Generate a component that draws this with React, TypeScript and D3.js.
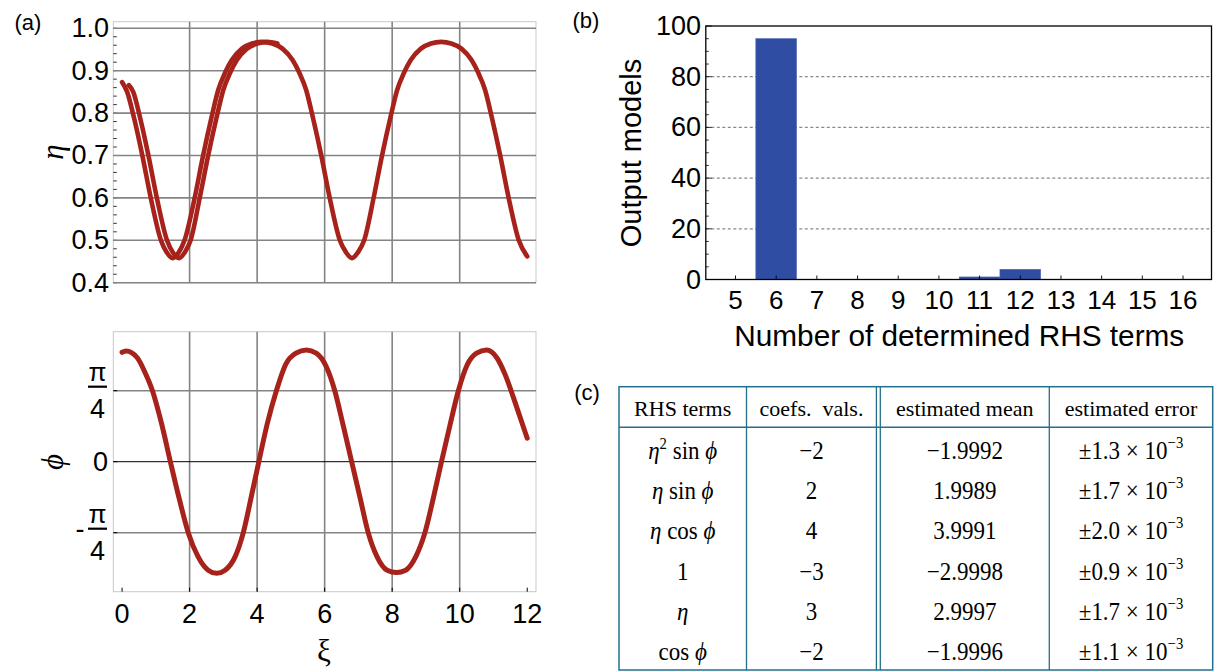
import React, { useEffect, useRef } from "react";
import * as d3 from "d3";

// ---- (a) upper: eta vs xi, two runs
const etaXiA = [0, 0.15, 0.35, 0.6, 0.85, 1.15, 1.32, 1.5, 1.68, 1.85, 2.15, 2.4, 2.65, 2.85, 3.05, 3.25, 3.55, 3.85, 4.15, 4.45, 4.75, 5.05, 5.25, 5.45, 5.65, 5.9, 6.15, 6.45, 6.63, 6.81, 6.99, 7.17, 7.45, 7.7, 7.95, 8.15, 8.35, 8.55, 8.85, 9.15, 9.45, 9.75, 10.05, 10.35, 10.55, 10.75, 10.95, 11.2, 11.45, 11.75, 12.0];
const etaA = [0.873, 0.85, 0.79, 0.7, 0.6, 0.5, 0.472, 0.458, 0.472, 0.5, 0.6, 0.7, 0.79, 0.855, 0.895, 0.925, 0.952, 0.964, 0.968, 0.964, 0.952, 0.925, 0.895, 0.855, 0.79, 0.7, 0.6, 0.5, 0.472, 0.458, 0.472, 0.5, 0.6, 0.7, 0.79, 0.855, 0.895, 0.925, 0.952, 0.964, 0.968, 0.964, 0.952, 0.925, 0.895, 0.855, 0.79, 0.7, 0.6, 0.5, 0.462];
const etaXiB = [0.2, 0.33, 0.53, 0.78, 1.03, 1.33, 1.5, 1.68, 1.86, 2.03, 2.3, 2.55, 2.8, 3.0, 3.2, 3.4, 3.7, 4.0, 4.3, 4.6];
const etaB = [0.866, 0.85, 0.79, 0.7, 0.6, 0.5, 0.472, 0.458, 0.472, 0.5, 0.6, 0.7, 0.79, 0.855, 0.895, 0.925, 0.952, 0.964, 0.968, 0.964];
const etaTicks = [0.4, 0.5, 0.6, 0.7, 0.8, 0.9, 1.0];

// ---- (a) lower: phi vs xi
const phiXi = [0, 0.12, 0.45, 0.7, 0.9, 1.17, 1.43, 1.7, 1.96, 2.25, 2.55, 2.8, 3.05, 3.35, 3.59, 3.82, 4.05, 4.3, 4.57, 4.85, 5.15, 5.46, 5.75, 6.05, 6.3, 6.55, 6.8, 7.05, 7.29, 7.55, 7.85, 8.13, 8.4, 8.7, 8.97, 9.22, 9.46, 9.71, 9.96, 10.22, 10.5, 10.8, 11.1, 11.35, 11.6, 11.8, 12.0];
const phi = [1.21, 1.225, 1.15, 0.97, 0.785, 0.42, 0, -0.42, -0.785, -1.05, -1.2, -1.235, -1.2, -1.05, -0.785, -0.4, 0, 0.42, 0.785, 1.08, 1.2, 1.235, 1.2, 1.05, 0.785, 0.4, 0, -0.4, -0.785, -1.05, -1.2, -1.225, -1.2, -1.05, -0.785, -0.4, 0, 0.4, 0.785, 1.07, 1.2, 1.235, 1.15, 0.96, 0.7, 0.48, 0.26];
const xiTicks = [0, 2, 4, 6, 8, 10, 12];
const xiGrid = [2, 4, 6, 8, 10];

// ---- (b) histogram
const termCounts = [5, 6, 7, 8, 9, 10, 11, 12, 13, 14, 15, 16];
const modelCounts = [0, 95, 0, 0, 0, 0, 1, 4, 0, 0, 0, 0];
const modelTicks = [0, 20, 40, 60, 80, 100];

// ---- (c) table
const tableHeader = ["RHS terms", "coefs.\u00A0 vals.", "estimated mean", "estimated error"];
const rhsTerms = ["η^2 sin ϕ", "η sin ϕ", "η cos ϕ", "1", "η", "cos ϕ"];
const coefVals = [-2, 2, 4, -3, 3, -2];
const estMeans = [-1.9992, 1.9989, 3.9991, -2.9998, 2.9997, -1.9996];
const estErrors = ["1.3", "1.7", "2.0", "0.9", "1.7", "1.1"];
const errExponent = "−3";

const SANS = "'Liberation Sans', Arial, sans-serif";
const SERIF = "'Liberation Serif', 'Times New Roman', serif";
const RED = "#a6221b";
const GRID = "#848484";
const FRAME = "#c8c8c8";
const TBL = "#246f8e";

const App = () => {
  const ref = useRef<SVGSVGElement>(null);

  useEffect(() => {
    const svg = d3.select(ref.current);
    svg.selectAll("*").remove();

    // ================= panel (a) =================
    const ax = d3.scaleLinear().domain([-0.26, 12.26]).range([113.3, 536]);
    const yEta = d3.scaleLinear().domain([0.4, 1.0155]).range([282.7, 21.7]);
    const yPhi = d3.scaleLinear().domain([-1.438, 1.438]).range([591.7, 331.7]);
    const [x0, x1] = ax.range();

    // top frame + grid
    const top = svg.append("g");
    top.append("rect")
      .attr("x", x0).attr("y", yEta.range()[1])
      .attr("width", x1 - x0).attr("height", yEta.range()[0] - yEta.range()[1])
      .attr("fill", "none").attr("stroke", FRAME).attr("stroke-width", 1);
    // minor ticks every 0.02
    d3.range(0.4, 1.0001, 0.02).forEach(v => {
      top.append("line")
        .attr("x1", x0).attr("x2", x0 + 3.5)
        .attr("y1", yEta(v)).attr("y2", yEta(v))
        .attr("stroke", "#000").attr("stroke-width", 0.8);
    });
    etaTicks.forEach(v => {
      top.append("line")
        .attr("x1", x0).attr("x2", x1)
        .attr("y1", yEta(v)).attr("y2", yEta(v))
        .attr("stroke", GRID).attr("stroke-width", 1.6);
      top.append("text")
        .attr("x", 109).attr("y", yEta(v))
        .attr("text-anchor", "end").attr("dominant-baseline", "central")
        .attr("font-family", SANS).attr("font-size", 27)
        .text(d3.format(".1f")(v));
    });
    xiGrid.forEach(v => {
      top.append("line")
        .attr("x1", ax(v)).attr("x2", ax(v))
        .attr("y1", yEta.range()[1]).attr("y2", yEta.range()[0])
        .attr("stroke", GRID).attr("stroke-width", 1.6);
    });

    const lineEta = d3.line<[number, number]>()
      .x(d => ax(d[0])).y(d => yEta(d[1]))
      .curve(d3.curveMonotoneX);
    const runA = etaXiA.map((x, i) => [x, etaA[i]] as [number, number]);
    const runB = etaXiB.map((x, i) => [x, etaB[i]] as [number, number]);
    [runA, runB].forEach(run => {
      top.append("path")
        .attr("d", lineEta(run))
        .attr("fill", "none").attr("stroke", RED)
        .attr("stroke-width", 4.6).attr("stroke-linejoin", "round")
        .attr("stroke-linecap", "round");
    });

    top.append("text")
      .attr("transform", "translate(52,152) rotate(-90)")
      .attr("text-anchor", "middle").attr("dominant-baseline", "central")
      .attr("font-family", SERIF).attr("font-style", "italic").attr("font-size", 31)
      .text("η");

    // bottom frame + grid
    const bot = svg.append("g");
    bot.append("rect")
      .attr("x", x0).attr("y", yPhi.range()[1])
      .attr("width", x1 - x0).attr("height", yPhi.range()[0] - yPhi.range()[1])
      .attr("fill", "none").attr("stroke", FRAME).attr("stroke-width", 1);
    xiGrid.forEach(v => {
      bot.append("line")
        .attr("x1", ax(v)).attr("x2", ax(v))
        .attr("y1", yPhi.range()[1]).attr("y2", yPhi.range()[0])
        .attr("stroke", GRID).attr("stroke-width", 1.6);
    });
    [-Math.PI / 4, Math.PI / 4].forEach(v => {
      bot.append("line")
        .attr("x1", x0).attr("x2", x1)
        .attr("y1", yPhi(v)).attr("y2", yPhi(v))
        .attr("stroke", GRID).attr("stroke-width", 1.6);
    });
    bot.append("line")
      .attr("x1", x0).attr("x2", x1)
      .attr("y1", yPhi(0)).attr("y2", yPhi(0))
      .attr("stroke", "#000").attr("stroke-width", 1);
    [-Math.PI / 4, 0, Math.PI / 4].forEach(v => {
      bot.append("line")
        .attr("x1", x0).attr("x2", x0 + 4)
        .attr("y1", yPhi(v)).attr("y2", yPhi(v))
        .attr("stroke", "#000").attr("stroke-width", 1);
    });
    xiTicks.forEach(v => {
      bot.append("line")
        .attr("x1", ax(v)).attr("x2", ax(v))
        .attr("y1", yPhi.range()[0]).attr("y2", yPhi.range()[0] - 4)
        .attr("stroke", "#000").attr("stroke-width", 1);
      bot.append("text")
        .attr("x", ax(v)).attr("y", 623)
        .attr("text-anchor", "middle")
        .attr("font-family", SANS).attr("font-size", 27)
        .text(v);
    });

    // y labels: 0 and ±π/4 as stacked fractions
    bot.append("text")
      .attr("x", 108).attr("y", yPhi(0))
      .attr("text-anchor", "end").attr("dominant-baseline", "central")
      .attr("font-family", SANS).attr("font-size", 27)
      .text("0");
    [Math.PI / 4, -Math.PI / 4].forEach(v => {
      const gy = yPhi(v);
      const ly = gy - 4;
      bot.append("line")
        .attr("x1", 88).attr("x2", 107).attr("y1", ly).attr("y2", ly)
        .attr("stroke", "#000").attr("stroke-width", 2.2);
      bot.append("text")
        .attr("x", 97.5).attr("y", gy - 10)
        .attr("text-anchor", "middle")
        .attr("font-family", SANS).attr("font-size", 26)
        .text("π");
      bot.append("text")
        .attr("x", 97.5).attr("y", gy + 27)
        .attr("text-anchor", "middle")
        .attr("font-family", SANS).attr("font-size", 27)
        .text("4");
      if (v < 0) {
        bot.append("text")
          .attr("x", 80).attr("y", ly)
          .attr("text-anchor", "middle").attr("dominant-baseline", "central")
          .attr("font-family", SANS).attr("font-size", 27)
          .text("-");
      }
    });

    const linePhi = d3.line<[number, number]>()
      .x(d => ax(d[0])).y(d => yPhi(d[1]))
      .curve(d3.curveMonotoneX);
    bot.append("path")
      .attr("d", linePhi(phiXi.map((x, i) => [x, phi[i]] as [number, number])))
      .attr("fill", "none").attr("stroke", RED)
      .attr("stroke-width", 5).attr("stroke-linejoin", "round")
      .attr("stroke-linecap", "round");

    bot.append("text")
      .attr("transform", "translate(52,462) rotate(-90)")
      .attr("text-anchor", "middle").attr("dominant-baseline", "central")
      .attr("font-family", SERIF).attr("font-style", "italic").attr("font-size", 31)
      .text("ϕ");
    bot.append("text")
      .attr("x", 324).attr("y", 661)
      .attr("text-anchor", "middle")
      .attr("font-family", SERIF).attr("font-size", 31)
      .text("ξ");

    // ================= panel (b) =================
    const bx = d3.scaleLinear().domain([4.27, 16.7]).range([705.8, 1211.5]);
    const by = d3.scaleLinear().domain([0, 100]).range([279.5, 26]);
    const hb = svg.append("g");
    modelTicks.filter(v => v > 0 && v < 100).forEach(v => {
      hb.append("line")
        .attr("x1", bx.range()[0]).attr("x2", bx.range()[1])
        .attr("y1", by(v)).attr("y2", by(v))
        .attr("stroke", "#8a8a8a").attr("stroke-width", 1.3)
        .attr("stroke-dasharray", "3,2.5");
    });
    termCounts.forEach((k, i) => {
      if (modelCounts[i] <= 0) return;
      hb.append("rect")
        .attr("x", bx(k - 0.5)).attr("width", bx(k + 0.5) - bx(k - 0.5))
        .attr("y", by(modelCounts[i])).attr("height", by(0) - by(modelCounts[i]))
        .attr("fill", "#2f4ea3").attr("stroke", "#4a63ad").attr("stroke-width", 0.6);
    });
    hb.append("rect")
      .attr("x", bx.range()[0]).attr("y", by(100))
      .attr("width", bx.range()[1] - bx.range()[0]).attr("height", by(0) - by(100))
      .attr("fill", "none").attr("stroke", "#000").attr("stroke-width", 1.3);
    d3.range(0, 100.1, 5).forEach(v => {
      const major = v % 20 === 0;
      hb.append("line")
        .attr("x1", bx.range()[0]).attr("x2", bx.range()[0] + (major ? 6 : 3))
        .attr("y1", by(v)).attr("y2", by(v))
        .attr("stroke", "#000").attr("stroke-width", 0.8);
    });
    modelTicks.forEach(v => {
      hb.append("text")
        .attr("x", 701).attr("y", by(v))
        .attr("text-anchor", "end").attr("dominant-baseline", "central")
        .attr("font-family", SANS).attr("font-size", 27)
        .text(v);
    });
    termCounts.forEach(k => {
      hb.append("line")
        .attr("x1", bx(k)).attr("x2", bx(k))
        .attr("y1", by(0)).attr("y2", by(0) - 4)
        .attr("stroke", "#000").attr("stroke-width", 0.9);
      hb.append("text")
        .attr("x", bx(k)).attr("y", 309)
        .attr("text-anchor", "middle")
        .attr("font-family", SANS).attr("font-size", 26)
        .text(k);
    });
    hb.append("text")
      .attr("x", (bx(5) + bx(16)) / 2).attr("y", 346)
      .attr("text-anchor", "middle")
      .attr("font-family", SANS).attr("font-size", 29)
      .attr("textLength", 450).attr("lengthAdjust", "spacingAndGlyphs")
      .text("Number of determined RHS terms");
    hb.append("text")
      .attr("transform", "translate(641,153) rotate(-90)")
      .attr("text-anchor", "middle")
      .attr("font-family", SANS).attr("font-size", 29)
      .text("Output models");

    // ================= panel (c) =================
    const tb = svg.append("g");
    const tl = 619, tr = 1212.7, tt = 386.7, tBot = 670, headLine = 427.3;
    const colLines = [746.5, 876.4, 880.3, 1049.3];
    const colCenters = [682.7, 811.5, 964.8, 1131];
    const rowY = d3.scaleLinear().domain([0, rhsTerms.length - 1]).range([450, 651.7]);

    tb.append("rect")
      .attr("x", tl).attr("y", tt).attr("width", tr - tl).attr("height", tBot - tt)
      .attr("fill", "none").attr("stroke", TBL).attr("stroke-width", 1.5);
    tb.append("line")
      .attr("x1", tl).attr("x2", tr).attr("y1", headLine).attr("y2", headLine)
      .attr("stroke", TBL).attr("stroke-width", 1.5);
    colLines.forEach(cx => {
      tb.append("line")
        .attr("x1", cx).attr("x2", cx).attr("y1", tt).attr("y2", tBot)
        .attr("stroke", TBL).attr("stroke-width", 1.3);
    });

    tableHeader.forEach((h, j) => {
      tb.append("text")
        .attr("x", colCenters[j]).attr("y", 415.5)
        .attr("text-anchor", "middle")
        .attr("font-family", SERIF).attr("font-size", 22)
        .text(h);
    });

    const fmtNum = (v: number, digits: number) =>
      (v < 0 ? "−" : "") + Math.abs(v).toFixed(digits);

    // body cells: slightly narrow, tall glyphs as in the figure
    const cell = (j: number, y: number) =>
      tb.append("text")
        .attr("transform", `translate(${colCenters[j]},${y}) scale(0.92,1)`)
        .attr("text-anchor", "middle")
        .attr("font-family", SERIF).attr("font-size", 25);

    rhsTerms.forEach((term, i) => {
      const base = rowY(i) + 8.5;
      // RHS term with italic greek and superscripts
      const t = cell(0, base);
      let shift = 0;
      term.split(" ").forEach((tok, k) => {
        const [b, sup] = tok.split("^");
        const span = t.append("tspan").text((k > 0 ? " " : "") + b);
        if (shift) { span.attr("dy", -shift); shift = 0; }
        if (/[ηϕ]/.test(b)) span.attr("font-style", "italic");
        if (sup) {
          t.append("tspan").attr("dy", -10).attr("font-size", 16).text(sup);
          shift = -10;
        }
      });

      cell(1, base).text(fmtNum(coefVals[i], 0));
      cell(2, base).text(fmtNum(estMeans[i], 4));

      const e = cell(3, base);
      e.append("tspan").text(`±${estErrors[i]} × 10`);
      e.append("tspan").attr("dy", -11).attr("font-size", 16).text(errExponent);
    });

    // panel letters
    [["(a)", 28, 22], ["(b)", 586, 20], ["(c)", 587, 392]].forEach(([s, x, y]) => {
      svg.append("text")
        .attr("x", x as number).attr("y", y as number)
        .attr("text-anchor", "middle").attr("dominant-baseline", "central")
        .attr("font-family", SANS).attr("font-size", 22)
        .text(s as string);
    });
  }, []);

  return (
    <svg
      ref={ref}
      width={1219}
      height={671}
      style={{ position: "absolute", left: 0, top: 0, background: "#fff" }}
    />
  );
};

export default App;
